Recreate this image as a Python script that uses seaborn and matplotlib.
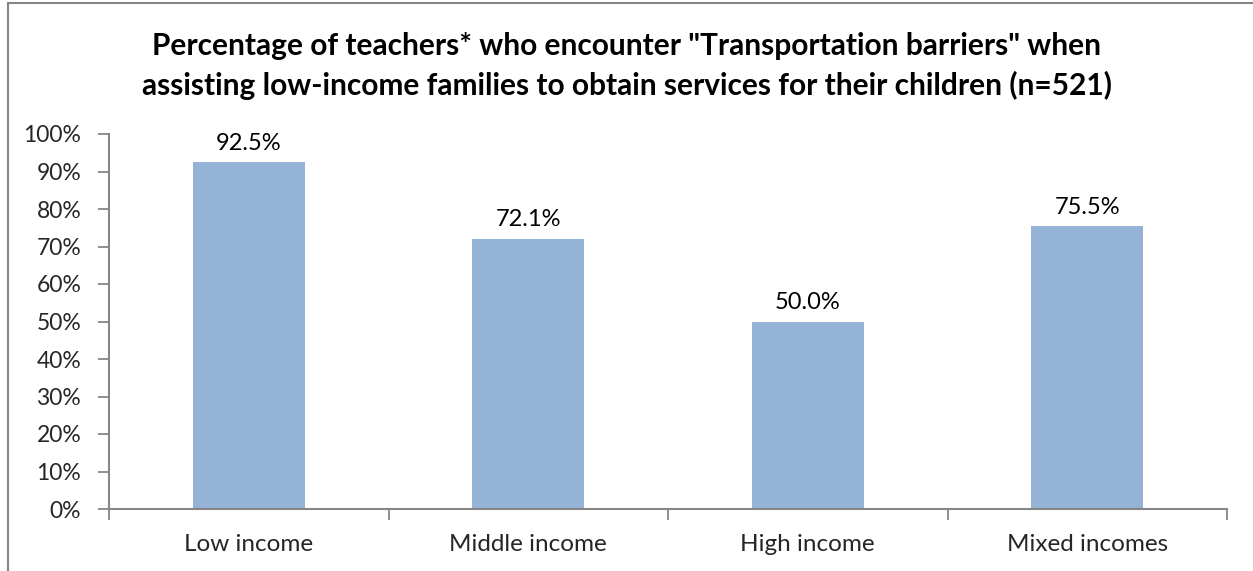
import matplotlib
matplotlib.use("Agg")
import matplotlib.pyplot as plt
import seaborn as sns
import pandas as pd
from matplotlib.patches import Rectangle
from matplotlib.ticker import FixedLocator, FuncFormatter

# Survey results by school income level
categories = ["Low income", "Middle income", "High income", "Mixed incomes"]
percentages = [92.5, 72.1, 50.0, 75.5]
y_ticks = [0, 10, 20, 30, 40, 50, 60, 70, 80, 90, 100]

title = ('Percentage of teachers* who encounter "Transportation barriers" when\n'
         'assisting low-income families to obtain services for their children (n=521)')

sns.set_theme(style="white")
plt.rcParams["font.family"] = ["Lato", "DejaVu Sans"]

df = pd.DataFrame({"category": categories, "pct": percentages})

W, H = 1253, 571
fig = plt.figure(figsize=(W / 100, H / 100), dpi=100)
ax = fig.add_axes([109 / W, 1 - 509 / H, (1227 - 109) / W, (509 - 134) / H])

bar_color = "#95B3D7"
axis_color = "#868686"

sns.barplot(data=df, x="category", y="pct", color=bar_color, saturation=1,
            width=0.4, ax=ax, edgecolor="none")

ax.set_xlim(-0.5, len(categories) - 0.5)
ax.set_ylim(0, 100)
ax.set_xlabel("")
ax.set_ylabel("")

ax.yaxis.set_major_locator(FixedLocator(y_ticks))
ax.yaxis.set_major_formatter(FuncFormatter(lambda v, _: f"{v:.0f}%"))
ax.tick_params(axis="y", which="major", direction="out", length=8, width=1.3,
               color=axis_color, labelsize=16.5, pad=12, left=True)

# category labels without marks, boundary marks between categories
ax.tick_params(axis="x", which="major", length=0, labelsize=17.5, pad=18)
ax.set_xticks([i - 0.5 for i in range(len(categories) + 1)], minor=True)
ax.tick_params(axis="x", which="minor", direction="out", length=8, width=1.3,
               color=axis_color, bottom=True)

for side in ("top", "right"):
    ax.spines[side].set_visible(False)
for side in ("left", "bottom"):
    ax.spines[side].set_color(axis_color)
    ax.spines[side].set_linewidth(1.5)

for i, v in enumerate(percentages):
    ax.annotate(f"{v:.1f}%", xy=(i, v), xytext=(0, 6), textcoords="offset points",
                ha="center", va="bottom", fontsize=17, color="#000000")

fig.text(0.5, 1 - 66 / H, title, ha="center", va="center", fontsize=21.5,
         fontweight="bold", linespacing=1.42, color="#000000")

# outer chart border
fig.patches.append(Rectangle((8 / W, -0.1), 1.2, 1.1 - 3 / H,
                             transform=fig.transFigure, fill=False,
                             edgecolor=axis_color, linewidth=1.5))

fig.savefig("out.png", dpi=100)
